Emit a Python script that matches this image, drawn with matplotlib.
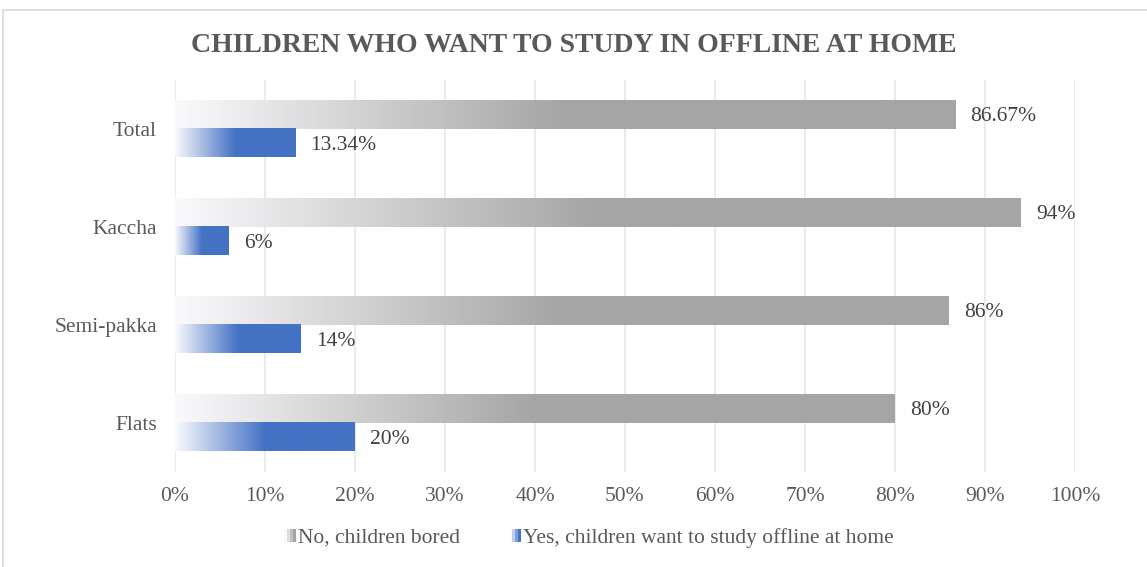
import matplotlib
matplotlib.use('Agg')
import matplotlib.pyplot as plt
import numpy as np
from matplotlib.colors import to_rgb
from matplotlib.patches import Rectangle
from matplotlib.legend_handler import HandlerBase

# data
categories = ["Total", "Kaccha", "Semi-pakka", "Flats"]
no_bored = [86.67, 94, 86, 80]
yes_offline = [13.34, 6, 14, 20]
no_labels = ["86.67%", "94%", "86%", "80%"]
yes_labels = ["13.34%", "6%", "14%", "20%"]
series_names = ["No, children bored", "Yes, children want to study offline at home"]

GRAY = "#A5A5A5"
BLUE = "#4472C4"
TEXT = "#595959"
FS = 15.5

plt.rcParams['font.family'] = ['Liberation Serif', 'DejaVu Serif']


def gradient_row(color, n=200, stop=0.5):
    """white -> color over the first part of the bar, then solid"""
    c = np.array(to_rgb(color))
    w = np.array([0.98, 0.98, 0.99])
    t = np.clip(np.linspace(0, 1, n) / stop, 0, 1)
    row = w[None, :] * (1 - t[:, None]) + c[None, :] * t[:, None]
    return row[None, :, :]


class GradientHandler(HandlerBase):
    def __init__(self, color):
        super().__init__()
        self.color = color

    def create_artists(self, legend, orig_handle, xdescent, ydescent,
                       width, height, fontsize, trans):
        row = gradient_row(self.color, n=4, stop=1.0)[0]
        arts = []
        size = height * 0.8
        x0 = width - size
        for k in range(4):
            r = Rectangle((x0 + k * size / 4 - xdescent, (height - size) / 2 - ydescent),
                          size / 4, size, facecolor=row[k], edgecolor='none',
                          transform=trans)
            arts.append(r)
        return arts


fig = plt.figure(figsize=(11.47, 5.67), dpi=100)
ax = fig.add_axes([175 / 1147, 1 - 472 / 567, 900 / 1147, 392 / 567])

y = np.arange(len(categories))
h = 0.29
bars_no = ax.barh(y - h / 2, no_bored, height=h, color='none')
bars_yes = ax.barh(y + h / 2, yes_offline, height=h, color='none')

for bars, col in [(bars_no, GRAY), (bars_yes, BLUE)]:
    for b in bars:
        x0, yb, w, hh = b.get_x(), b.get_y(), b.get_width(), b.get_height()
        ax.imshow(gradient_row(col), extent=[x0, x0 + w, yb + hh, yb],
                  aspect='auto', interpolation='bilinear', zorder=2)

for bars, labels in [(bars_no, no_labels), (bars_yes, yes_labels)]:
    for b, lab in zip(bars, labels):
        ax.annotate(lab, (b.get_width(), b.get_y() + b.get_height() / 2),
                    xytext=(15, -2), textcoords='offset pixels',
                    va='center', ha='left', fontsize=FS, color='#404040')

ax.set_xlim(0, 100)
ax.set_ylim(3.5, -0.5)
ax.set_xticks(np.arange(0, 101, 10))
ax.set_xticklabels([f"{v}%" for v in range(0, 101, 10)])
ax.set_yticks(y)
ax.set_yticklabels(categories)
ax.tick_params(axis='both', length=0, labelsize=FS, labelcolor=TEXT)
ax.tick_params(axis='x', pad=11)
ax.tick_params(axis='y', pad=13)
ax.grid(axis='x', color='#EBEBEB', linewidth=1.5, zorder=0)
ax.set_axisbelow(True)
for s in ax.spines.values():
    s.set_visible(False)

fig.text(0.5, 1 - 46 / 567, "CHILDREN WHO WANT TO STUDY IN OFFLINE AT HOME",
         ha='center', va='center', fontsize=20, fontweight='bold', color=TEXT)

handles = [Rectangle((0, 0), 1, 1), Rectangle((0, 0), 1, 1)]
fig.legend(handles, series_names, loc='center', bbox_to_anchor=(0.513, 1 - 538 / 567),
           ncol=2, frameon=False, fontsize=FS, labelcolor=TEXT,
           handler_map={handles[0]: GradientHandler(GRAY), handles[1]: GradientHandler(BLUE)},
           handlelength=0.6, handletextpad=0.1, columnspacing=2.2)

fig.patches.append(Rectangle((3 / 1147, -0.01), 1.0, 1 - 10 / 567 + 0.01,
                             transform=fig.transFigure, fill=False,
                             edgecolor='#D9D9D9', linewidth=1.2))

fig.savefig("out.png", dpi=100)
